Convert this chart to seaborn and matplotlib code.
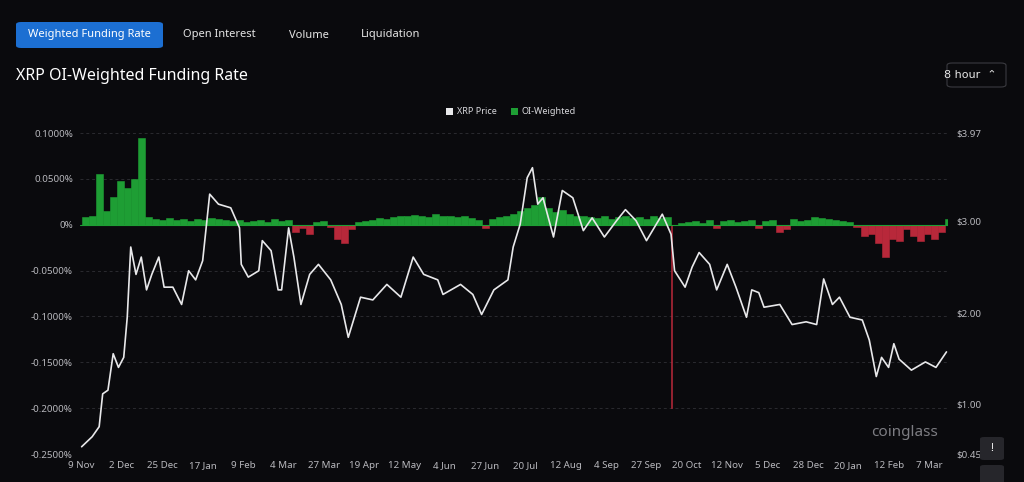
import numpy as np
import pandas as pd
import matplotlib.pyplot as plt
import matplotlib.patches as mpatches
import matplotlib.ticker as mticker
import seaborn as sns

# ── data ─────────────────────────────────────────────────────────────────────
START = pd.Timestamp("2024-11-09")

price_days = [0, 6, 10, 12, 15, 18, 21, 24, 26, 28, 31, 34, 37, 40, 44, 47, 52, 57,
              61, 65, 69, 73, 78, 85, 90, 91, 95, 101, 103, 108, 112, 114, 118, 121,
              125, 130, 135, 142, 148, 152, 159, 166, 174, 182, 189, 195, 203, 206,
              216, 223, 228, 235, 243, 246, 250, 254, 257, 260, 263, 269, 274, 280,
              286, 291, 298, 305, 310, 316, 322, 331, 336, 338, 344, 348, 352, 358,
              362, 368, 373, 379, 382, 386, 389, 398, 405, 413, 419, 423, 428, 432,
              438, 445, 449, 453, 456, 460, 463, 466, 473, 481, 487, 493]
price_vals = [0.53, 0.64, 0.75, 1.11, 1.15, 1.55, 1.40, 1.51, 1.95, 2.72, 2.42, 2.61,
              2.25, 2.42, 2.61, 2.28, 2.28, 2.09, 2.46, 2.36, 2.57, 3.30, 3.19, 3.15,
              2.93, 2.53, 2.39, 2.46, 2.79, 2.68, 2.25, 2.25, 2.93, 2.61, 2.09, 2.42,
              2.53, 2.36, 2.09, 1.73, 2.17, 2.14, 2.31, 2.17, 2.61, 2.42, 2.36, 2.20,
              2.31, 2.20, 1.98, 2.25, 2.36, 2.72, 2.97, 3.48, 3.59, 3.19, 3.26, 2.83,
              3.34, 3.26, 2.90, 3.04, 2.83, 3.01, 3.13, 3.01, 2.79, 3.08, 2.86, 2.46,
              2.28, 2.50, 2.66, 2.53, 2.25, 2.53, 2.28, 1.95, 2.25, 2.22, 2.06, 2.09,
              1.87, 1.90, 1.87, 2.37, 2.09, 2.17, 1.95, 1.92, 1.70, 1.30, 1.51, 1.40,
              1.66, 1.49, 1.37, 1.46, 1.40, 1.57]

# OI-weighted funding rate (%), one value every 4 days from START
funding_step = 4
funding_vals = [0.008, 0.010, 0.055, 0.015, 0.030, 0.048, 0.040, 0.050, 0.095, 0.008,
                0.006, 0.005, 0.007, 0.005, 0.006, 0.004, 0.006, 0.005, 0.007, 0.006,
                0.005, 0.004, 0.005, 0.003, 0.004, 0.005, 0.003, 0.006, 0.004, 0.005,
                -0.008, -0.004, -0.010, 0.003, 0.004, -0.002, -0.015, -0.020, -0.005, 0.003,
                0.004, 0.005, 0.007, 0.006, 0.008, 0.010, 0.009, 0.011, 0.010, 0.008,
                0.012, 0.009, 0.010, 0.008, 0.009, 0.007, 0.005, -0.003, 0.006, 0.008,
                0.010, 0.012, 0.015, 0.018, 0.022, 0.030, 0.018, 0.014, 0.016, 0.012,
                0.010, 0.009, 0.008, 0.007, 0.009, 0.006, 0.008, 0.009, 0.007, 0.008,
                0.006, 0.009, 0.007, 0.008, -0.200, 0.002, 0.003, 0.004, 0.002, 0.005,
                -0.003, 0.004, 0.005, 0.003, 0.004, 0.005, -0.004, 0.004, 0.005, -0.008,
                -0.005, 0.006, 0.004, 0.005, 0.008, 0.007, 0.006, 0.005, 0.004, 0.003,
                -0.002, -0.012, -0.010, -0.020, -0.035, -0.015, -0.018, -0.005, -0.012, -0.018,
                -0.010, -0.015, -0.008, 0.006, 0.008]

x_tick_labels = ["9 Nov", "2 Dec", "25 Dec", "17 Jan", "9 Feb", "4 Mar", "27 Mar",
                 "19 Apr", "12 May", "4 Jun", "27 Jun", "20 Jul", "12 Aug", "4 Sep",
                 "27 Sep", "20 Oct", "12 Nov", "5 Dec", "28 Dec", "20 Jan", "12 Feb", "7 Mar"]
left_ticks = [0.10, 0.05, 0.0, -0.05, -0.10, -0.15, -0.20, -0.25]
right_ticks = [3.97, 3.00, 2.00, 1.00, 0.45]

price_df = pd.DataFrame({"date": START + pd.to_timedelta(price_days, unit="D"),
                         "price": price_vals})
fund_dates = START + pd.to_timedelta(np.arange(len(funding_vals)) * funding_step, unit="D")
fund = np.array(funding_vals)

# ── style ────────────────────────────────────────────────────────────────────
BG = "#0a0a0d"
GREEN = "#1e9e34"
RED = "#b8283a"
sns.set_theme(style="dark")
plt.rcParams["font.family"] = ["Noto Sans", "DejaVu Sans"]

fig = plt.figure(figsize=(10.24, 4.82), dpi=100, facecolor=BG)
ax = fig.add_axes([0.078, 0.058, 0.848, 0.666], facecolor=BG)

# funding bars (the one-off liquidation spike is drawn as a thin line)
widths = np.where(np.abs(fund) > 0.1, 0.6, funding_step)
bar_colors = np.where(fund >= 0, GREEN, RED)
ax.bar(fund_dates, fund, width=widths, align="edge",
       color=bar_colors, edgecolor=bar_colors, linewidth=0.4, zorder=2)
ax.axhline(0, color=GREEN, lw=0.8, zorder=2)
ax.set_ylim(-0.25, 0.10)
ax.set_yticks(left_ticks)
ax.yaxis.set_major_formatter(mticker.FuncFormatter(
    lambda v, _: "0%" if abs(v) < 1e-9 else f"{v:.4f}%"))
ax.grid(axis="y", color="#2b2b30", ls=(0, (3, 3)), lw=0.7)
ax.grid(axis="x", visible=False)

tick_dates = [START + pd.Timedelta(days=23 * i) for i in range(len(x_tick_labels))]
ax.set_xticks(tick_dates)
ax.set_xticklabels(x_tick_labels)
ax.set_xlim(START - pd.Timedelta(days=1), START + pd.Timedelta(days=494))
ax.tick_params(axis="both", colors="#b8b8bd", labelsize=7, length=0, pad=5)
for s in ax.spines.values():
    s.set_visible(False)

# price line on right axis
ax2 = ax.twinx()
sns.lineplot(data=price_df, x="date", y="price", ax=ax2, color="#e8e8ea", lw=1.2, zorder=3)
ax2.set_ylim(0.45, 3.97)
ax2.set_yticks(right_ticks)
ax2.set_yticklabels([f"${v:.2f}" for v in right_ticks])
ax2.set_ylabel("")
ax2.set_xlabel("")
ax.set_xlabel("")
ax2.grid(False)
ax2.tick_params(axis="y", colors="#b8b8bd", labelsize=7, length=0, pad=6)
for s in ax2.spines.values():
    s.set_visible(False)

# ── header / decorations ────────────────────────────────────────────────────
fig.patches.append(mpatches.FancyBboxPatch((16 / 1024, 1 - 48 / 482), 147 / 1024, 26 / 482,
                   boxstyle="round,pad=0,rounding_size=0.005", transform=fig.transFigure,
                   facecolor="#1c6fd2", edgecolor="none"))
fig.text(89.5 / 1024, 1 - 35 / 482, "Weighted Funding Rate", color="white", fontsize=8,
         fontweight="bold", ha="center", va="center")
for xc, t in [(219, "Open Interest"), (309, "Volume"), (391, "Liquidation")]:
    fig.text(xc / 1024, 1 - 35 / 482, t, color="#e6e6e6", fontsize=8,
             fontweight="bold", ha="center", va="center")
fig.text(16 / 1024, 1 - 76 / 482, "XRP OI-Weighted Funding Rate", color="white",
         fontsize=11.5, fontweight="bold", ha="left", va="center")
fig.patches.append(mpatches.FancyBboxPatch((947 / 1024, 1 - 87 / 482), 59 / 1024, 24 / 482,
                   boxstyle="round,pad=0,rounding_size=0.005", transform=fig.transFigure,
                   facecolor=BG, edgecolor="#3a3a40", lw=0.8))
fig.text(970 / 1024, 1 - 75 / 482, "8 hour  ⌃", color="#e6e6e6", fontsize=8,
         ha="center", va="center", family=["DejaVu Sans"])

# legend
for xs, t, c in [(446, "XRP Price", "#e8e8ea"), (511, "OI-Weighted", GREEN)]:
    fig.patches.append(mpatches.Rectangle((xs / 1024, 1 - 115 / 482), 7 / 1024, 7 / 482,
                       transform=fig.transFigure, facecolor=c, edgecolor="none"))
    fig.text((xs + 11) / 1024, 1 - 111.5 / 482, t, color="#d8d8dc", fontsize=6.5,
             ha="left", va="center")

# watermark
fig.text(905 / 1024, 1 - 433 / 482, "coinglass", color="#9a9aa0", fontsize=11,
         fontweight="bold", ha="center", va="center", alpha=0.8)

# side buttons
for yb in [437, 465]:
    fig.patches.append(mpatches.FancyBboxPatch((980 / 1024, 1 - (yb + 23) / 482), 24 / 1024, 23 / 482,
                       boxstyle="round,pad=0,rounding_size=0.004", transform=fig.transFigure,
                       facecolor="#26262b", edgecolor="none"))
fig.text(992 / 1024, 1 - 448.5 / 482, "!", color="white", fontsize=8, fontweight="bold",
         ha="center", va="center")

fig.savefig("out.png", dpi=100, facecolor=BG)
